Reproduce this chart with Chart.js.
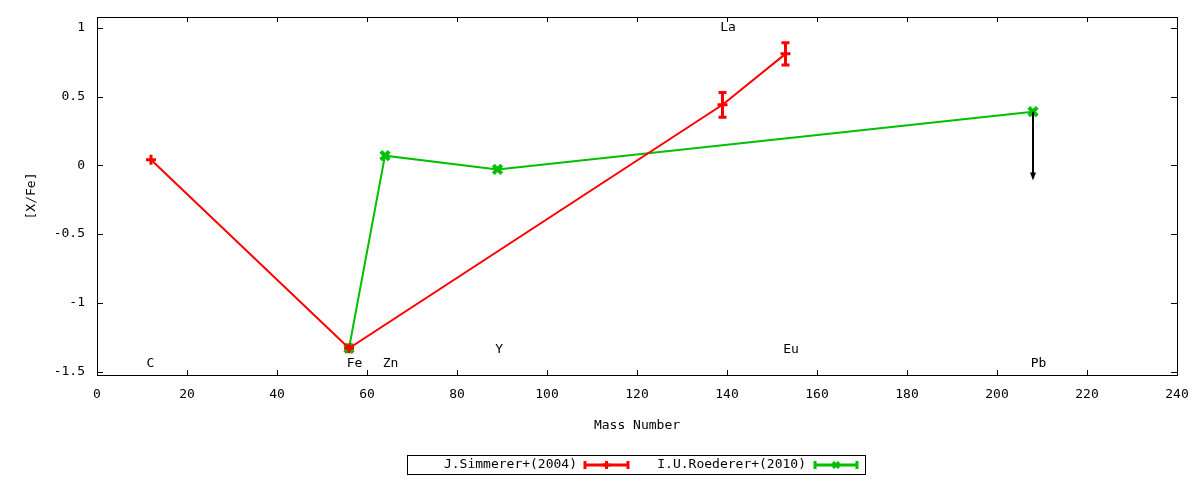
<!DOCTYPE html>
<html><head><meta charset="utf-8">
<script src="https://cdn.jsdelivr.net/npm/chart.js@4"></script>
<style>html,body{margin:0;padding:0;background:#fff}</style>
</head><body>
<canvas id="c" width="1200" height="480"></canvas>
<script>
// ---- data ----
const simmMass = [12, 56, 139, 153];
const simmVal  = [0.04, -1.33, 0.44, 0.81];
const simmErr  = [0, 0, 0.09, 0.08];
const roedMass = [56, 64, 89, 208];
const roedVal  = [-1.33, 0.07, -0.03, 0.39];
const seriesNames = ['J.Simmerer+(2004)', 'I.U.Roederer+(2010)'];
const elemNames = ['C', 'Fe', 'Zn', 'Y', 'La', 'Eu', 'Pb'];
const elemX     = [11, 55.5, 63.5, 88.5, 138.5, 152.5, 207.5];
const elemY     = [-1.44, -1.44, -1.44, -1.34, 1.0, -1.34, -1.44];
const limitX    = [208];
const limitFrom = [0.39];
const limitTo   = [-0.11];
const xTicks = [0, 20, 40, 60, 80, 100, 120, 140, 160, 180, 200, 220, 240];
const yTicks = [-1.5, -1, -0.5, 0, 0.5, 1];
const xTitle = 'Mass Number';
const yTitle = '[X/Fe]';

const RED = '#ff0000', GREEN = '#00c000';
const FONT = '13px "DejaVu Sans Mono", monospace';

function pts(xs, ys) { return xs.map((x, i) => ({ x: x, y: ys[i] })); }

function drawPlus(ctx, x, y, r, color) {
  ctx.save(); ctx.strokeStyle = color; ctx.lineWidth = 3;
  ctx.beginPath(); ctx.moveTo(x - r, y); ctx.lineTo(x + r, y);
  ctx.moveTo(x, y - r); ctx.lineTo(x, y + r); ctx.stroke(); ctx.restore();
}
function drawX(ctx, x, y, r, color) {
  ctx.save(); ctx.strokeStyle = color; ctx.lineWidth = 3;
  ctx.beginPath(); ctx.moveTo(x - r, y - r); ctx.lineTo(x + r, y + r);
  ctx.moveTo(x + r, y - r); ctx.lineTo(x - r, y + r); ctx.stroke(); ctx.restore();
}

const gp = {
  id: 'gp',
  beforeDraw(chart) {
    const ctx = chart.ctx; ctx.save(); ctx.fillStyle = '#fff';
    ctx.fillRect(0, 0, chart.width, chart.height); ctx.restore();
  },
  afterDatasetsDraw(chart) {
    const ctx = chart.ctx, xs = chart.scales.x, ys = chart.scales.y;
    // error bars
    ctx.save(); ctx.strokeStyle = RED; ctx.lineWidth = 3;
    simmMass.forEach((m, i) => {
      if (!simmErr[i]) return;
      const px = xs.getPixelForValue(m);
      const y1 = ys.getPixelForValue(simmVal[i] + simmErr[i]);
      const y2 = ys.getPixelForValue(simmVal[i] - simmErr[i]);
      ctx.beginPath(); ctx.moveTo(px, y1); ctx.lineTo(px, y2);
      ctx.moveTo(px - 4, y1); ctx.lineTo(px + 4, y1);
      ctx.moveTo(px - 4, y2); ctx.lineTo(px + 4, y2); ctx.stroke();
    });
    ctx.restore();
    // upper-limit arrow
    ctx.save(); ctx.strokeStyle = '#000'; ctx.fillStyle = '#000'; ctx.lineWidth = 2;
    limitX.forEach((m, i) => {
      const px = xs.getPixelForValue(m);
      const y1 = ys.getPixelForValue(limitFrom[i]);
      const y2 = ys.getPixelForValue(limitTo[i]);
      ctx.beginPath(); ctx.moveTo(px, y1); ctx.lineTo(px, y2 - 4); ctx.stroke();
      ctx.beginPath(); ctx.moveTo(px, y2); ctx.lineTo(px - 3, y2 - 8);
      ctx.lineTo(px + 3, y2 - 8); ctx.closePath(); ctx.fill();
    });
    ctx.restore();
  },
  afterDraw(chart) {
    const ctx = chart.ctx, a = chart.chartArea, xs = chart.scales.x, ys = chart.scales.y;
    ctx.save();
    // border
    ctx.strokeStyle = '#000'; ctx.lineWidth = 1;
    ctx.strokeRect(Math.round(a.left) + 0.5, Math.round(a.top) + 0.5,
                   Math.round(a.right - a.left), Math.round(a.bottom - a.top));
    // inward ticks
    ctx.beginPath();
    xTicks.forEach(v => {
      const px = Math.round(xs.getPixelForValue(v)) + 0.5;
      ctx.moveTo(px, a.bottom); ctx.lineTo(px, a.bottom - 5);
      ctx.moveTo(px, a.top); ctx.lineTo(px, a.top + 5);
    });
    yTicks.forEach(v => {
      const py = Math.round(ys.getPixelForValue(v)) + 0.5;
      ctx.moveTo(a.left, py); ctx.lineTo(a.left + 6, py);
      ctx.moveTo(a.right, py); ctx.lineTo(a.right - 6, py);
    });
    ctx.stroke();
    // element labels
    ctx.font = FONT; ctx.fillStyle = '#000';
    ctx.textAlign = 'left'; ctx.textBaseline = 'middle';
    elemNames.forEach((n, i) => {
      ctx.fillText(n, xs.getPixelForValue(elemX[i]), ys.getPixelForValue(elemY[i]));
    });
    // axis titles
    ctx.textAlign = 'center';
    ctx.fillText(xTitle, (a.left + a.right) / 2, 426);
    ctx.save(); ctx.translate(32, (a.top + a.bottom) / 2); ctx.rotate(-Math.PI / 2);
    ctx.fillText(yTitle, 0, 0); ctx.restore();
    // legend
    ctx.strokeStyle = '#000'; ctx.lineWidth = 1;
    ctx.strokeRect(407.5, 455.5, 458, 19);
    const ly = 465;
    const ent = [
      { tx: 577, s0: 585, s1: 628, c: RED, mk: drawPlus, r: 4 },
      { tx: 806, s0: 815, s1: 857, c: GREEN, mk: drawX, r: 3 }
    ];
    ent.forEach((e, i) => {
      ctx.fillStyle = '#000'; ctx.textAlign = 'right';
      ctx.fillText(chart.data.datasets[i].label, e.tx, ly);
      ctx.strokeStyle = e.c; ctx.lineWidth = 3;
      ctx.beginPath(); ctx.moveTo(e.s0, ly); ctx.lineTo(e.s1, ly);
      ctx.moveTo(e.s0, ly - 4); ctx.lineTo(e.s0, ly + 4);
      ctx.moveTo(e.s1, ly - 4); ctx.lineTo(e.s1, ly + 4); ctx.stroke();
      e.mk(ctx, (e.s0 + e.s1) / 2, ly, e.r, e.c);
    });
    ctx.restore();
  }
};

new Chart(document.getElementById('c'), {
  type: 'line',
  data: {
    datasets: [
      { label: seriesNames[0], data: pts(simmMass, simmVal), borderColor: RED, backgroundColor: RED,
        borderWidth: 2, pointStyle: 'cross', pointRadius: 5, pointBorderWidth: 3, tension: 0 },
      { label: seriesNames[1], data: pts(roedMass, roedVal), borderColor: GREEN, backgroundColor: GREEN,
        borderWidth: 2, pointStyle: 'crossRot', pointRadius: 6, pointBorderWidth: 4, tension: 0 }
    ]
  },
  options: {
    responsive: false, animation: false, devicePixelRatio: 1,
    layout: { padding: { left: 0, right: 23, top: 17, bottom: 0 } },
    plugins: { legend: { display: false }, tooltip: { enabled: false } },
    scales: {
      x: {
        type: 'linear', min: 0, max: 240,
        afterBuildTicks(s) { s.ticks = xTicks.map(v => ({ value: v })); },
        afterFit(s) { s.height = 105; s.paddingLeft = 0; s.paddingRight = 0; },
        grid: { display: false, drawTicks: false }, border: { display: false },
        ticks: { color: '#000', padding: 12, maxRotation: 0, autoSkip: false,
                 font: { family: '"DejaVu Sans Mono", monospace', size: 13 },
                 callback: v => String(v) }
      },
      y: {
        type: 'linear', min: -1.524, max: 1.078,
        afterBuildTicks(s) { s.ticks = yTicks.map(v => ({ value: v })); },
        afterFit(s) { s.width = 97; s.paddingTop = 0; s.paddingBottom = 0; },
        grid: { display: false, drawTicks: false }, border: { display: false },
        ticks: { color: '#000', padding: 12, autoSkip: false,
                 font: { family: '"DejaVu Sans Mono", monospace', size: 13 },
                 callback: v => String(v) }
      }
    }
  },
  plugins: [gp]
});
</script>
</body></html>
